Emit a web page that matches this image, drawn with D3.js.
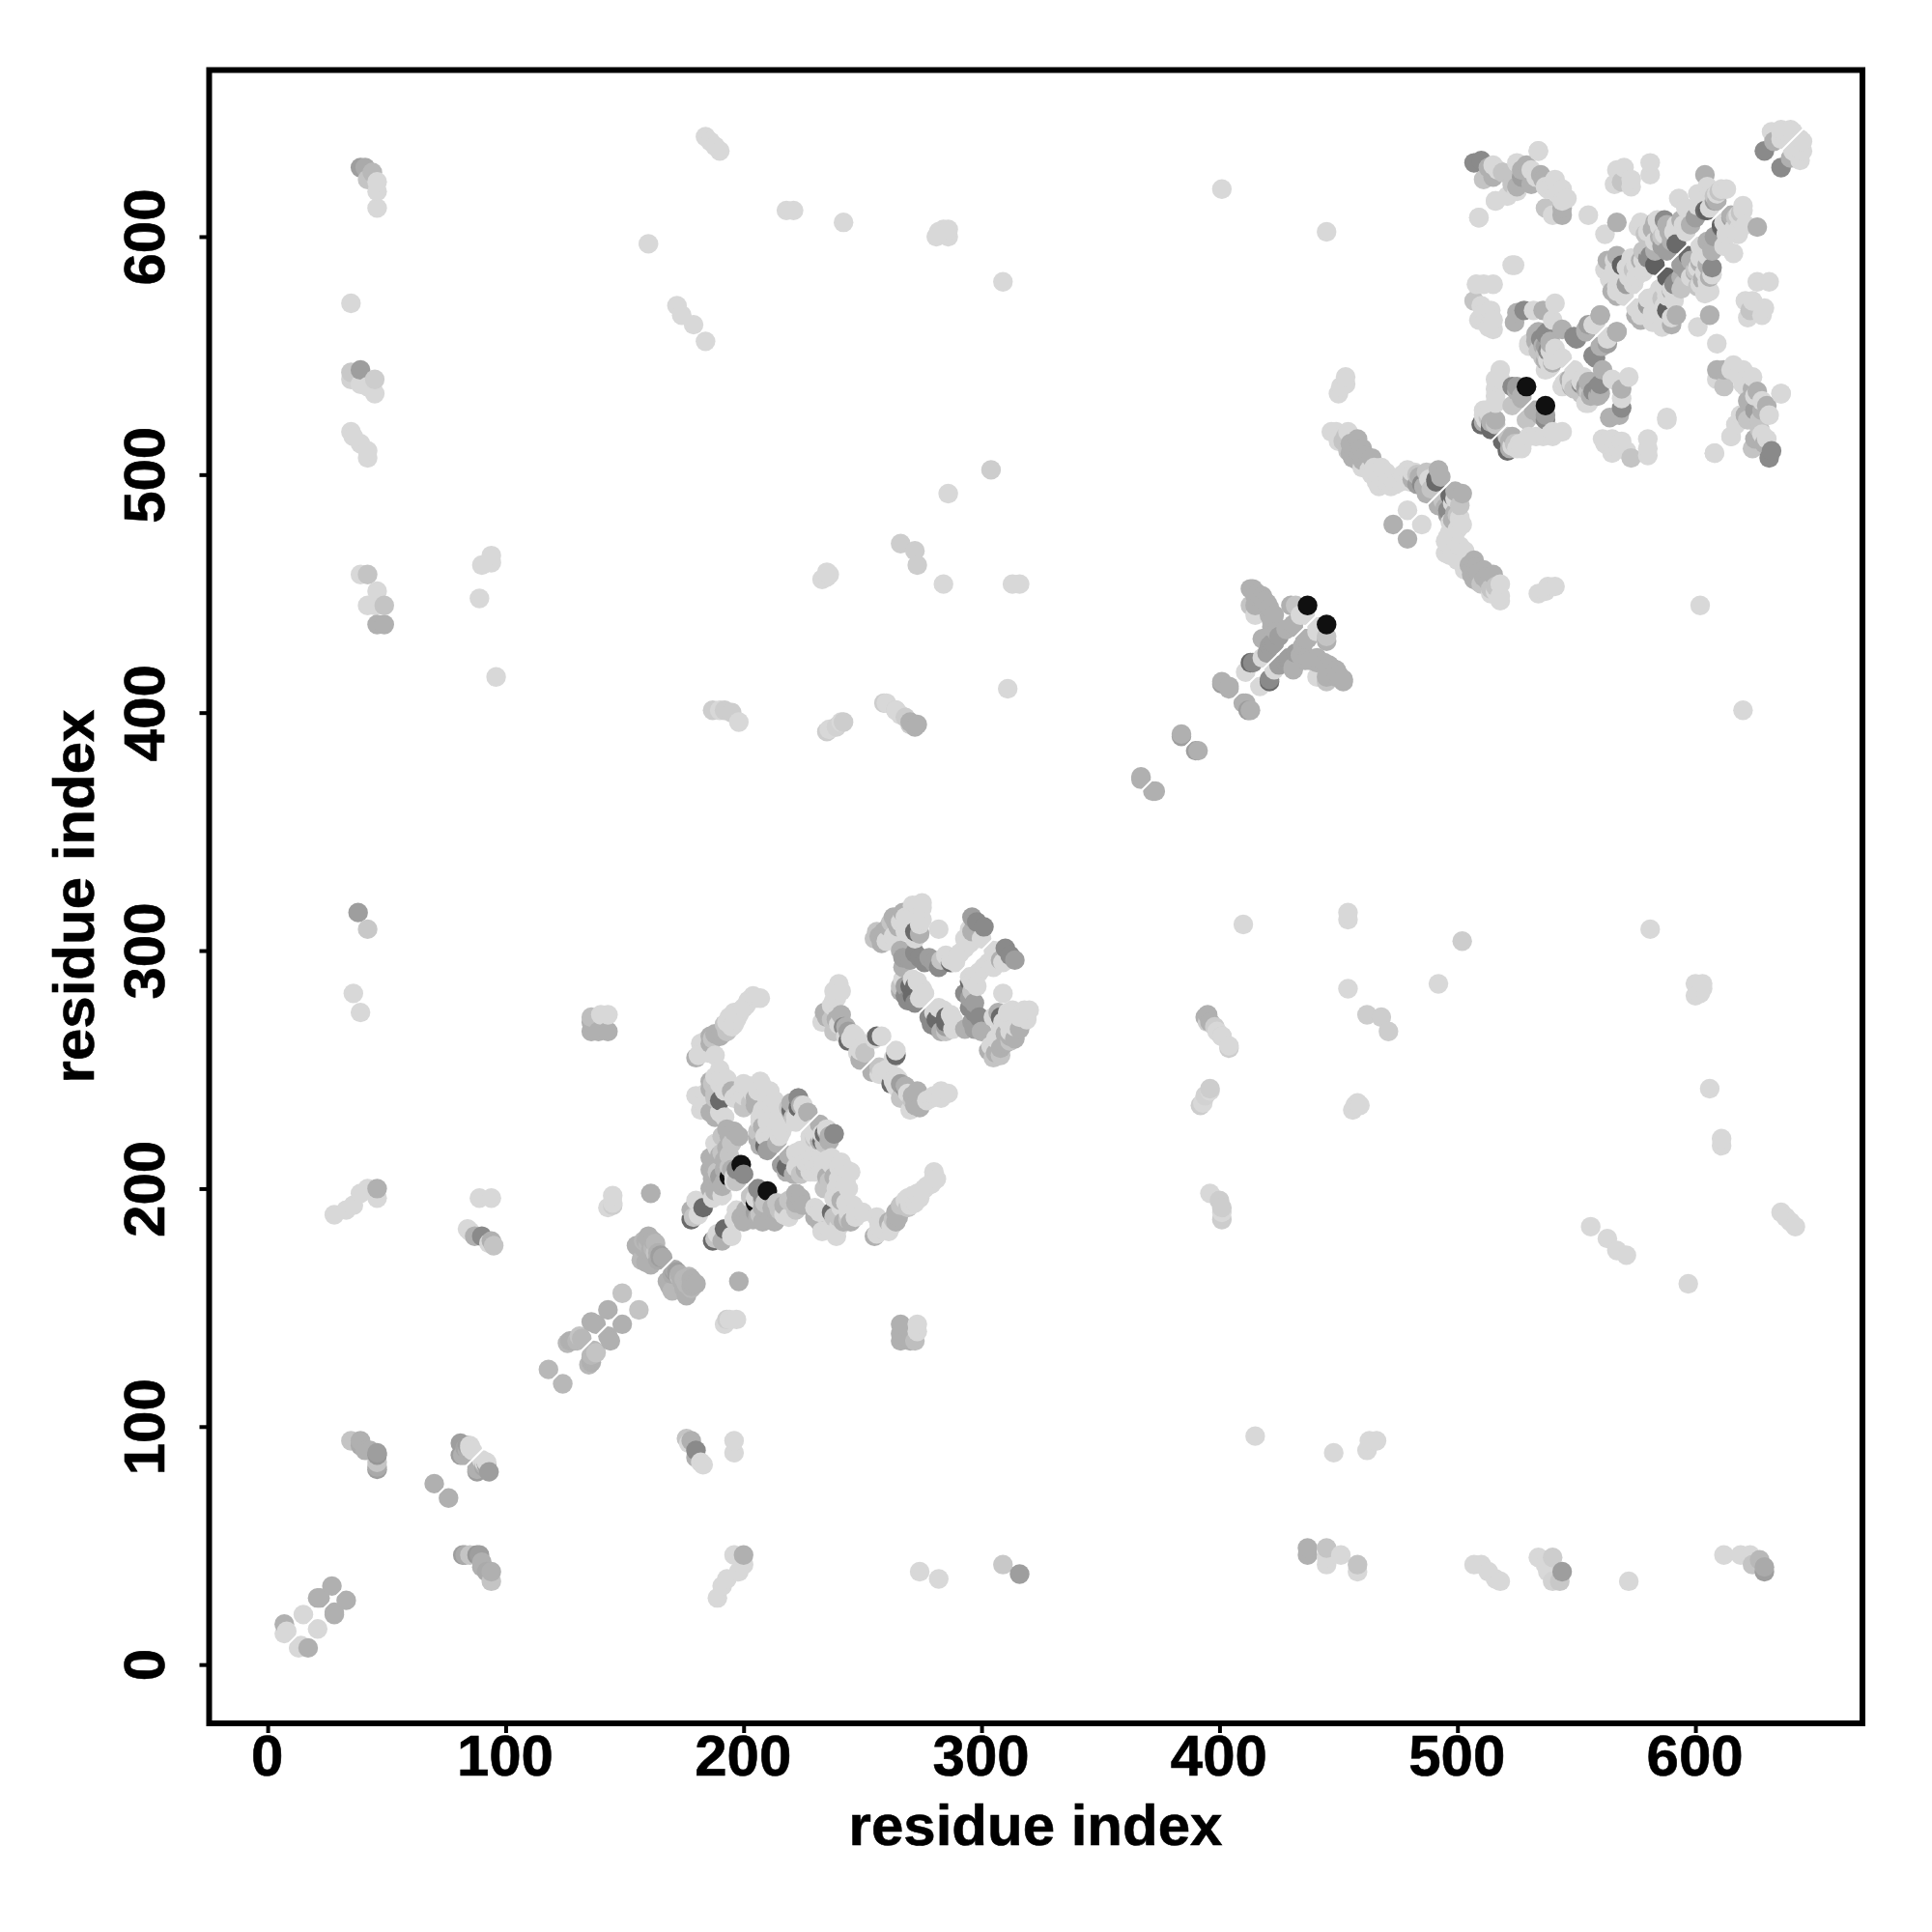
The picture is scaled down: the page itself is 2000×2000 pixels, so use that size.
<!DOCTYPE html>
<html><head><meta charset="utf-8">
<script src="https://cdnjs.cloudflare.com/ajax/libs/d3/7.8.5/d3.min.js"></script>
<style>html,body{margin:0;background:#fff}svg{display:block}text{font-family:"Liberation Sans",Arial,sans-serif;font-weight:bold;fill:#000}</style>
</head><body><svg id="c" width="2000" height="2000"></svg>
<script>
const tickValues = [0,100,200,300,400,500,600];
const axisTitle = "residue index";
// contacts: [residue i, residue j, grey level]; each is drawn at (i,j) and (j,i)
const nTerminus = [[7,17,176],[8,14,216],[7,13,216],[15,21,216],[21,28,176],[22,28,176],[27,33,176],[70,76,176]];
const shortStrands = [[83,91,165],[84,90,176],[85,91,216],[85,92,216],[82,88,176],[81,88,158],[81,93,158],[84,92,158],[84,91,176],[86,90,216],[83,88,176],
 [46,83,170],[46,85,196],[46,89,158],[43,90,176],[41,90,176],[39,92,170],[39,94,176],[35,94,196],[46,82,158],[46,88,150]];
const farLeftColumn = [[39,629,158],[41,629,170],[42,624,196],[44,627,184],[46,623,216],[46,619,216],[46,612,216],
 [35,572,216],[35,543,200],[39,544,158],[35,540,210],[39,538,216],[45,540,205],[45,534,216],[42,537,216],
 [35,518,216],[36,516,216],[39,513,216],[42,510,216],[42,507,216],
 [39,458,216],[42,458,196],[46,451,216],[42,445,216],[45,445,216],[49,445,196],[49,437,176],[46,437,176],
 [38,316,158],[42,309,200],[36,282,216],[39,274,216],
 [28,189,216],[33,191,216],[36,193,216],[39,198,216],[42,200,216],[46,200,176],[46,196,216]];
const column90 = [[90,462,216],[94,463,216],[94,466,216],[89,448,216],[96,415,216],
 [84,183,216],[85,182,216],[90,180,138],[93,177,216],[95,176,196],[94,178,176],[89,196,216],[94,196,216],[87,180,176]];
const helix120 = [[118,124,184],[127,136,176],[131,138,196],[126,135,184],[129,136,176],[132,137,184],[130,136,184],[138,143,176],[143,149,176],[149,156,196],[128,136,176],[136,144,176]];
const helix160 = [[160,179,176],[160,176,184],[162,175,184],[163,177,184],[165,172,158],[163,173,196],[166,171,170],[158,175,176],[157,170,184],
 [155,176,176],[160,180,176],[165,171,158],[161,168,176],[159,178,176],[162,178,176],[164,173,176],[161,174,176],[158,178,184],[159,169,176],[164,170,170],
 [161,198,176],[143,192,216],[145,193,205],[145,194,216],[145,197,216]];
const farPairs = [[184,642,216],[186,640,216],[188,638,216],[190,636,216],[160,597,216],[218,611,216],[221,611,216],[242,606,216],[283,601,216],[286,600,216],[281,600,216],[284,603,216],[282,602,216],[286,603,216],
 [309,581,216],[172,571,216],[174,567,216],[179,563,216],[184,556,216],[401,620,216],[445,602,216],[286,492,216],[304,502,205],
 [266,471,205],[272,468,205],[273,462,205],[284,454,216],[233,456,216],[236,458,216],[313,454,216],[316,454,216],[311,410,216],
 [187,401,205],[192,401,205],[195,400,205],[198,396,216],[235,392,205],[239,394,210],[242,396,205],[259,404,205],[264,401,205],[268,398,205],[270,395,205],[273,395,176],
 [272,394,176],[270,396,176],[266,399,216],[264,401,216],[260,404,216],[236,393,216],[241,396,216],[235,457,216],[235,459,216],[190,401,216],
 [136,266,176],[139,266,176],[143,266,176],[136,270,176],[140,273,216],[143,273,216],[136,272,190],
 [450,534,216],[451,537,216],[453,538,216],[453,541,216],[534,636,216],[523,588,216],[509,608,216],[516,615,216]];
const arm180 = [[207,280,216],[204,281,216],[199,275,216],[197,271,216],[195,268,216],[192,269,196],[193,266,196],[190,264,176],[188,265,176],[184,262,216],[181,256,216],[180,255,176],[188,256,216],
 [186,261,176],[187,263,196],[191,265,176],[193,270,216],[194,272,216],[196,269,216],[198,273,216],[200,276,216],[196,274,216],[201,277,216],[202,279,216],[205,280,216],[183,258,216],[182,261,216],[185,257,216],[186,264,176]];
const block180 = [[188,247,216],[186,245,176],[191,247,216],[190,244,216],[186,242,176],[190,237,106],[188,240,196],[192,241,216],[195,241,176],[200,244,216],[200,239,216],[200,234,196],[207,245,216],[205,238,176],[211,241,216],[213,237,216],[207,230,216],[211,232,216],[215,230,216],[223,238,158],[224,235,176],[226,232,216],[221,230,196],[220,233,106],
 [180,239,216],[182,233,216],[188,230,176],[192,230,216],
 [194,222,176],[198,222,176],[191,222,196],[188,219,216],[195,219,196],[192,212,176],[191,215,196],
 [199,210,16],[200,206,138],[196,205,216],[194,205,16],[197,203,196],
 [210,216,158],[209,218,106],[215,222,216],[211,226,216],[208,226,176],[209,222,216],[214,219,176],
 [232,223,216],[228,222,216],[234,223,106],[238,223,138],[234,219,196],[232,227,176],
 [183,192,106],[180,195,216],[181,189,216],[178,187,106],[179,188,196],[178,191,176],[186,200,176],
 [203,243,216],[204,240,216],[206,241,216],[208,243,216],[209,240,216],[210,237,216],[212,235,216],[213,233,216],[210,231,216],[208,233,216],[205,235,176],[203,236,196],[198,240,216],[196,238,216],[194,243,216],[193,246,216],[190,250,216],[187,244,196],[188,238,196],[184,240,216],[183,236,216],[186,232,176],[190,232,216],
 [193,225,176],[196,224,176],[193,217,176],[190,214,176],[189,217,216],[194,214,196],[195,208,176],[197,208,138],[192,208,176],[196,203,216],
 [206,224,196],[207,228,216],[210,228,216],[212,227,216],[213,224,216],[216,224,216],[207,218,176],[206,221,176],
 [222,236,176],[223,233,216],[225,235,216],[218,232,216],[219,228,216],[229,225,216],[230,222,216],[232,220,176],[236,220,176],[212,229,216],[211,233,216],
 [186,208,176],[187,204,176],[189,207,196],[190,205,158],[192,203,176],[194,209,196],[186,213,176],[187,211,176],[188,206,176],[191,201,176],[191,197,216],[188,199,176],[187,196,216]];
const arm240 = [[240,286,216],[238,283,216],[241,283,216],[238,279,216],[234,274,176],[236,273,176],[233,270,216],[241,273,176],[240,269,216],[238,266,196],[244,266,158],[247,264,216],[243,264,216],[256,264,106],[258,264,216],[249,258,216],[249,254,176],
 [235,272,176],[237,271,196],[239,271,176],[242,268,138],[245,263,216],[246,265,216],[248,262,216],[250,260,216],[251,257,196],[255,263,216],[248,257,216],[239,281,216],[239,280,216],[237,277,216],[243,268,176],[244,262,106]];
const ring270 = [[275,320,216],[271,319,216],[267,316,176],[264,312,176],[259,308,176],[256,308,196],[258,303,176],[263,306,216],[270,311,216],[274,315,216],[274,311,216],[274,307,176],[272,308,106],[282,309,216],[275,318,216],[275,313,216],[263,314,176],[265,310,176],
 [267,297,158],[274,297,138],[270,296,158],[280,295,158],[285,298,216],[289,295,216],[287,295,106],[291,299,216],[295,303,216],[301,310,138],[298,312,138],[295,309,216],[300,305,216],
 [267,288,216],[270,285,106],[272,285,106],[275,284,216],[268,281,138],[274,280,216],[269,279,138],
 [262,312,196],[261,310,176],[266,312,216],[268,314,216],[272,316,216],[273,319,216],[255,305,196],[257,306,176],[260,304,216],[268,308,216],[270,309,216],[272,305,216],[267,293,176],[266,300,176],[272,299,138],[276,295,138],[283,296,196],[287,296,216],[293,301,216],[290,298,216],[296,308,176],[293,305,216],[268,285,158],[266,285,196],[271,288,216],[273,287,216],[266,283,176],[271,281,106],[276,282,216],[272,278,138],[296,314,158],[278,297,158],[282,293,138]];
const fan400 = [[367,373,176],[367,372,176],[384,391,176],[384,390,158],[401,413,176],[404,411,176],[401,412,158],[404,410,176],
 [414,452,176],[418,449,176],[413,445,196],[415,441,216],[421,444,176],[422,438,176],[430,445,176],[432,445,196],[437,445,16],[434,441,216],[428,435,176],[431,436,176],[421,428,158],[423,429,158],[418,431,176],[413,421,106],[414,421,138],[418,423,216],[411,417,216],
 [431,437,176],[436,441,216],[413,452,176],[415,445,176],[423,441,176],[423,437,176],[415,449,176],[419,431,176],[422,429,158],
 [416,450,176],[419,447,176],[420,446,176],[421,441,176],[422,436,176],[424,434,176],[425,432,158],[420,425,158]];
const band450 = [[447,518,216],[449,518,216],[454,518,216],[458,515,176],[452,514,196],[460,511,176],[456,507,176],[464,507,176],[460,503,216],[468,503,216],[471,496,216],[474,496,216],[468,496,216],[466,498,216],[479,502,216],[483,500,196],[492,502,176],[488,498,216],[483,496,158],[485,496,138],[491,497,106],[490,499,216],
 [491,498,106],[486,495,176],[482,501,216],[466,497,216],[463,502,216],[458,506,176],[455,509,176],[450,514,216],[454,510,196],[457,511,176],[460,506,176],[464,500,216],[467,495,216],[470,497,216],[473,479,176],[479,485,216],
 [451,516,216],[453,516,196],[455,513,176],[457,512,176],[459,509,176],[461,508,176],[462,505,176],[465,503,216],[466,500,216],[469,499,216],[470,501,216],[473,498,216],[472,495,216],[476,497,216],[477,500,216],[481,498,176],[484,499,176],[487,501,196],[489,494,196],[493,499,176],[495,486,176],[487,492,176],[481,501,216],[480,497,216]];
const topRightArm = [[507,631,138],[510,632,138],[515,630,216],[515,625,176],[511,624,196],[525,631,216],[529,630,176],[523,627,196],[525,621,176],[523,622,196],[534,636,216],
 [533,625,216],[536,624,176],[541,624,216],[537,621,216],[544,620,216],[544,615,216],[516,615,216],[521,617,216],[525,619,216],[509,608,216],[537,612,196],[540,609,216],[544,612,176],[544,609,176],
 [555,609,216],[567,606,176],[562,601,216],[524,588,216],[508,580,216],[511,580,216],[515,580,216],[507,573,196],[510,571,216],[514,569,216],[515,565,216],[515,561,216],[512,565,216],[509,565,216],
 [541,572,216],[525,568,176],[528,569,138],[524,564,176],[532,569,216],[536,569,176],[540,565,216],[544,561,176],[534,560,176],[537,559,138],[539,556,176],[530,554,216],[534,552,196],[541,553,216],[544,549,216],[537,548,176],[537,544,216],
 [550,557,138],[554,561,176],[558,563,216],[560,567,176],[555,563,158],[567,560,176],[563,557,216],[560,554,176],[558,549,138],
 [567,628,216],[570,629,216],[566,622,216],[573,624,216],[573,621,216],[569,623,196],[581,631,216],[581,626,216],[593,616,216],[596,612,216],
 [604,626,176],[605,621,216],[613,620,216],[608,617,196],[604,611,106],[581,605,216],[579,601,196],[587,607,138],[585,604,216],[592,605,216],[592,597,106],[589,602,176],[594,607,176],[600,608,158],[596,602,216],[588,594,158],
 [567,592,176],[569,588,96],[562,586,216],[566,586,216],[567,579,216],[567,575,176],[571,580,158],[574,580,216],[570,575,216],[575,588,216],[579,587,216],[581,592,138],[583,588,96],
 [584,607,216],[580,602,216],[580,591,138],[609,618,216],[608,615,158],[605,611,96],[574,586,196],[577,590,176],[590,600,176],[586,600,196],[583,598,216],[578,594,196],[591,602,216],[601,613,216],
 [629,636,138],[633,640,176],[632,644,216],[636,644,216],[641,644,216],[636,641,216],[640,645,216],[636,645,216],
 [576,604,216],[577,606,216],[582,603,176],[583,606,176],[585,600,176],[587,601,216],[588,605,176],[590,598,176],[586,596,158],[595,605,216],[598,605,176],[573,591,216],[571,587,216],[572,583,216],[575,583,216],[578,590,216],[580,595,196],[583,594,176],[578,585,216],[568,582,216],[569,577,216],[565,577,176],[564,582,216],[566,590,216],[563,590,176],[603,618,216],[606,612,216],[601,618,216],[603,616,216],[607,619,216],[610,619,196],[609,615,176],[611,620,216],[567,577,216],
 [513,629,176],[517,628,216],[519,627,196],[527,625,158],[527,628,176],[531,628,216],[531,622,176],[535,626,176],[538,620,216],[540,621,216],[542,618,216],[546,616,216],
 [533,556,176],[535,557,138],[536,554,176],[538,552,138],[539,552,216],[535,555,196],[537,554,158],[536,549,196],[538,548,216],[539,545,216],[540,547,176],[513,562,216],[511,568,216],[514,567,216]];
const block520 = [[529,537,16],[525,537,158],[527,533,176],[523,529,196],[518,544,216],[516,536,216],[516,530,216],[516,523,176],[514,521,106],[516,521,196],[511,527,216],[510,521,106],[514,519,106],
 [516,533,216],[517,539,216],[512,523,216],[513,526,216],[514,520,106],[523,537,138],[527,532,176],
 [538,560,138],[533,559,176],[530,555,216],[539,555,176],[537,551,196],[540,548,216],
 [511,525,216],[512,527,216],[511,522,176],[513,524,196],[514,522,176],[518,540,216],[516,540,216],[525,535,176]];

const contacts = [nTerminus,shortStrands,farLeftColumn,column90,helix120,helix160,farPairs,arm180,block180,arm240,ring270,fan400,band450,topRightArm,block520].flat();

const svg = d3.select("#c");
const x = d3.scaleLinear().domain([-24.6,670.2]).range([216.5,1928]);
const y = d3.scaleLinear().domain([-24.7,670]).range([1784,72.5]);

// draw at both triangles; the reference paints in order of x, then y
const pts = contacts.flatMap(([i,j,g]) => [{x:i,y:j,g},{x:j,y:i,g}])
  .sort((a,b)=>d3.ascending(a.x,b.x)||d3.ascending(a.y,b.y));

svg.append("g").selectAll("circle").data(pts).join("circle")
  .attr("cx",d=>x(d.x)).attr("cy",d=>y(d.y)).attr("r",10.2)
  .attr("fill",d=>d3.rgb(d.g,d.g,d.g));

svg.append("line").attr("x1",x(0)).attr("y1",y(0)).attr("x2",x(646)).attr("y2",y(646))
  .attr("stroke","#fff").attr("stroke-width",2);

svg.append("rect").attr("x",x.range()[0]).attr("y",y.range()[1])
  .attr("width",x.range()[1]-x.range()[0]).attr("height",y.range()[0]-y.range()[1])
  .attr("fill","none").attr("stroke","#000").attr("stroke-width",6);

const gx = svg.append("g").attr("transform",`translate(0,${y.range()[0]})`)
  .call(d3.axisBottom(x).tickValues(tickValues).tickSize(10));
const gy = svg.append("g").attr("transform",`translate(${x.range()[0]},0)`)
  .call(d3.axisLeft(y).tickValues(tickValues).tickSize(10));
[gx,gy].forEach(g=>{
  g.select(".domain").remove();
  g.selectAll(".tick line").attr("stroke","#000").attr("stroke-width",4);
  g.selectAll(".tick text").style("font-size","60px").style("font-family",'"Liberation Sans"').style("font-weight","bold").attr("fill","#000").attr("stroke","#000").attr("stroke-width",0.6);
});
gx.selectAll(".tick text").attr("dy",null).attr("y",null)
  .attr("transform","translate(-1,54)").attr("text-anchor","middle");
gy.selectAll(".tick text").attr("x",null).attr("dy",null)
  .attr("transform","translate(-47,0) rotate(-90)").attr("text-anchor","middle");

[[`translate(1072,1910)`],[`translate(97,928) rotate(-90)`]].forEach(([t])=>{
  svg.append("text").attr("transform",t).attr("text-anchor","middle").style("font-size","60px").attr("stroke","#000").attr("stroke-width",0.6).text(axisTitle);
});
</script></body></html>
